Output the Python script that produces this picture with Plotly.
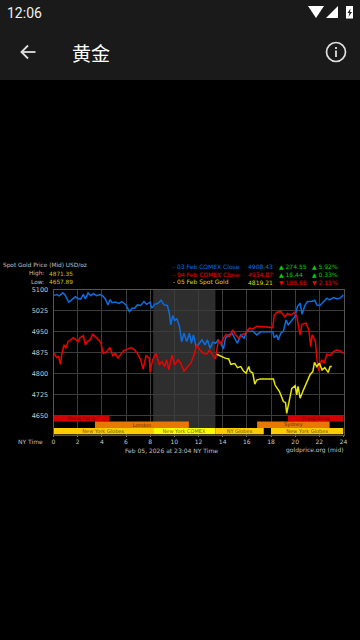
import plotly.graph_objects as go

blue_h = [0.04,0.26,0.48,0.76,0.95,1.26,1.48,1.81,2.03,2.25,2.47,2.64,2.86,3.08,3.30,3.57,3.85,4.07,4.29,4.51,4.68,4.84,5.12,5.39,5.67,6.0,6.28,6.5,6.72,6.94,7.22,7.49,7.71,7.99,8.13,8.38,8.65,8.90,9.15,9.42,9.59,9.70,9.87,10.03,10.20,10.42,10.61,10.80,11.03,11.25,11.41,11.58,11.80,12.02,12.29,12.54,12.74,12.96,13.18,13.40,13.62,13.84,14.06,14.23,14.5,14.78,15.0,15.22,15.5,15.77,16.0,16.27,16.49,16.82,17.15,18.15,18.26,18.48,18.59,18.81,19.03,19.25,19.42,19.69,19.97,20.19,20.41,20.57,20.8,21.02,21.37,21.62,21.79,22.06,22.34,22.62,22.84,23.17,23.5,23.78,24.0]
blue_p = [5079,5082,5077,5088,5081,5055,5062,5074,5068,5066,5083,5066,5088,5078,5085,5078,5082,5077,5066,5045,5064,5053,5055,5050,5057,5045,5021,5033,5033,5045,5043,5057,5047,5055,5033,5047,5051,5062,5045,5043,5015,4974,5007,4988,4997,4968,4914,4944,4914,4944,4908,4938,4896,4905,4920,4902,4920,4890,4912,4908,4920,4908,4888,4926,4938,4944,4926,4908,4938,4926,4952,4950,4952,4938,4949,4949,4928,4938,4920,4944,4952,4991,4974,4988,5003,5039,5051,5012,5043,5057,5057,5062,5045,5043,5055,5069,5063,5071,5066,5071,5081]

red_h = [0.04,0.26,0.42,0.57,0.70,0.87,1.03,1.20,1.42,1.64,1.86,2.03,2.19,2.47,2.64,2.80,3.02,3.24,3.47,3.74,3.90,4.12,4.40,4.67,4.90,5.12,5.34,5.62,5.84,6.17,6.44,6.72,6.94,7.22,7.41,7.66,7.93,7.99,8.21,8.49,8.76,8.98,9.2,9.37,9.54,9.81,10.03,10.31,10.53,10.8,11.08,11.36,11.63,11.85,12.13,12.4,12.68,12.9,13.18,13.4,13.65,13.84,14.06,14.28,14.56,14.83,15.05,15.33,15.6,15.88,16.21,16.49,16.82,18.15,18.26,18.48,18.81,19.14,19.36,19.64,19.97,20.13,20.41,20.57,20.9,21.13,21.29,21.4,21.68,21.79,21.95,22.18,22.4,22.62,22.89,23.17,23.44,23.72,24.0]
red_p = [4872,4857,4861,4833,4872,4902,4890,4914,4920,4928,4920,4914,4928,4935,4902,4914,4920,4940,4932,4920,4912,4872,4878,4893,4864,4872,4855,4872,4883,4888,4893,4884,4872,4849,4816,4864,4855,4805,4849,4872,4831,4843,4825,4849,4813,4866,4831,4849,4837,4809,4825,4837,4866,4902,4884,4872,4869,4884,4866,4852,4920,4905,4926,4940,4932,4956,4938,4926,4938,4944,4962,4959,4969,4964,5007,5019,5021,5003,5015,5009,5019,5003,4938,4976,4980,4956,4896,4938,4914,4855,4809,4849,4837,4869,4864,4878,4884,4881,4872]

yellow_h = [13.51,13.84,14.2,14.5,14.67,15.0,15.22,15.5,15.72,15.94,16.16,16.27,16.49,16.66,16.82,17.1,18.2,18.34,18.7,19.03,19.2,19.3,19.53,19.72,20.0,20.13,20.24,20.41,20.68,20.96,21.24,21.46,21.6,21.79,22.0,22.23,22.45,22.73,22.89,23.03]
yellow_p = [4869,4861,4855,4852,4833,4836,4821,4825,4809,4802,4825,4808,4802,4762,4777,4781,4781,4759,4736,4700,4697,4658,4706,4747,4757,4724,4754,4712,4741,4769,4797,4807,4840,4825,4837,4813,4821,4804,4825,4825]

session_names = ["Hong Kong","Hong Kong","London","Sydney","New York Globex","New York COMEX","NY Globex","New York Globex"]
session_rows = [2,2,1,1,0,0,0,0]
session_start = [0,19.4,3.43,16.85,0,8.25,13.4,18.0]
session_end = [4.6,24,11.2,22.85,8.25,13.4,17.4,24]
session_colors = ["#d40000","#d40000","#e87800","#e87800","#ffcc00","#ffff00","#ffcc00","#ffcc00"]
session_text = ["#600000","#600000","#6a3000","#6a3000","#6a5000","#6a6a00","#6a5000","#6a5000"]

y_ticks = [4650,4725,4800,4875,4950,5025,5100]
x_ticks = list(range(0,25,2))
comex_window = [8.25,13.4]

legend_names = ["- 03 Feb COMEX Close","- 04 Feb COMEX Close","- 05 Feb Spot Gold"]
legend_vals = ["4908.43","4934.87","4819.21"]
legend_chg = ["▲ 274.55","▲ 16.44","▼ 105.66"]
legend_pct = ["▲ 5.92%","▲ 0.33%","▼ 2.15%"]

W, H = 360, 640
BLUE, RED, YEL = "#0a6ee0", "#ee0000", "#e6e600"
GREEN = "#00d000"
FONT = "DejaVu Sans"

def px(x): return x / W
def py(y): return 1 - y / H

fig = go.Figure()
fig.add_trace(go.Scatter(x=blue_h, y=blue_p, mode="lines", line=dict(color=BLUE, width=1.5), showlegend=False))
fig.add_trace(go.Scatter(x=red_h, y=red_p, mode="lines", line=dict(color=RED, width=1.5), showlegend=False))
fig.add_trace(go.Scatter(x=yellow_h, y=yellow_p, mode="lines", line=dict(color=YEL, width=1.5), showlegend=False))
fig.add_trace(go.Bar(
    y=session_rows, x=[e - s for s, e in zip(session_start, session_end)], base=session_start,
    orientation="h", width=1, yaxis="y2",
    marker=dict(color=session_colors, line=dict(width=0)),
    text=session_names, textposition="inside", insidetextanchor="middle", textangle=0,
    constraintext="none", textfont=dict(family=FONT, size=5, color=session_text),
    showlegend=False, hoverinfo="skip"))

grid = "#3c3c3c"
fig.update_layout(
    width=W, height=H, margin=dict(l=0, r=0, t=0, b=0, pad=0, autoexpand=False),
    paper_bgcolor="#000000", plot_bgcolor="#000000", barmode="overlay",
    font=dict(family=FONT, size=6, color="#c0c0c0"),
    xaxis=dict(domain=[px(53.5), px(343.5)], range=[0, 24], tickvals=x_ticks, ticktext=[str(t) for t in x_ticks],
               showgrid=True, gridcolor=grid, gridwidth=1, zeroline=False, showline=True, linecolor="#555555",
               mirror=True, ticks="outside", ticklen=1, tickcolor="#777777", anchor="y", automargin=False,
               tickfont=dict(family=FONT, size=6, color="#c8c8c8")),
    yaxis=dict(domain=[py(434.5), py(289.5)], range=[4582.5, 5100], tickvals=y_ticks, automargin=False,
               showgrid=True, gridcolor=grid, gridwidth=1, zeroline=False, showline=True, linecolor="#555555",
               mirror=True, ticks="", tickfont=dict(family=FONT, size=6.5, color="#c8c8c8"), ticklabelstandoff=3),
    yaxis2=dict(overlaying="y", range=[-0.5, 22.0], visible=False, anchor="x", showgrid=False, zeroline=False),
)

shapes = [
    dict(type="rect", xref="x", yref="paper", x0=comex_window[0], x1=comex_window[1], y0=py(434), y1=py(289.5),
         fillcolor="#2e2e2e", line=dict(width=0), layer="below"),
    dict(type="rect", xref="paper", yref="paper", x0=0, x1=1, y0=py(80), y1=1, fillcolor="#1a1a1a", line=dict(width=0)),
]
def path(d, **kw):
    s = dict(type="path", xref="paper", yref="paper", path=d, line=dict(width=0))
    s.update(kw)
    return s
def P(*pts, close=True):
    d = "M" + " L".join(f"{px(x):.5f},{py(y):.5f}" for x, y in pts)
    return d + (" Z" if close else "")
# back arrow
shapes.append(dict(type="line", xref="paper", yref="paper", x0=px(21.5), x1=px(35.5), y0=py(52), y1=py(52), line=dict(color="#e0e0e0", width=1.8)))
shapes.append(path(P((28,45.5),(21.5,52),(28,58.5), close=False), line=dict(color="#e0e0e0", width=1.8)))
# info icon
shapes.append(dict(type="circle", xref="paper", yref="paper", x0=px(326.5), x1=px(345.5), y0=py(61.5), y1=py(42.5),
                   line=dict(color="#e0e0e0", width=1.7)))
shapes.append(dict(type="line", xref="paper", yref="paper", x0=px(336), x1=px(336), y0=py(50.5), y1=py(57), line=dict(color="#e0e0e0", width=1.8)))
shapes.append(dict(type="line", xref="paper", yref="paper", x0=px(336), x1=px(336), y0=py(47), y1=py(49), line=dict(color="#e0e0e0", width=1.8)))
# status icons
shapes.append(path(P((308,6),(324,6),(316,18)), fillcolor="#ffffff"))
shapes.append(path(P((326,18),(338,18),(338,6)), fillcolor="#ffffff"))
shapes.append(path(P((346,6),(353,6),(353,18.5),(346,18.5)), fillcolor="#ffffff"))
shapes.append(path(P((350.5,8.5),(347.5,13),(349.5,13),(348.5,17),(352,12),(350,12)), fillcolor="#1a1a1a"))
fig.update_layout(shapes=shapes)

def T(x, y, s, color="#c0c0c0", size=6, anchor="left", family=FONT):
    dx = {"left": -1, "right": 1, "center": 0}[anchor]
    fig.add_annotation(x=px(x + dx), y=py(y), xref="paper", yref="paper", text=s, showarrow=False,
                       xanchor=anchor, yanchor="middle", borderpad=0,
                       font=dict(family=family, size=size, color=color))

T(7, 13, "12:06", "#f0f0f0", 14, family="Roboto")
T(72, 52, "黄金", "#ffffff", 19, family="Noto Sans CJK SC")

T(3, 265.5, "Spot Gold Price (Mid) USD/oz", "#c0c0c0", 5.8)
T(44, 273.5, "High:", "#c0c0c0", 5.8, "right")
T(49, 273.5, "4871.35", "#c8c800", 5.8)
T(44, 282, "Low:", "#c0c0c0", 5.8, "right")
T(49, 282, "4657.89", "#c8c800", 5.8)

for i, (name, col) in enumerate(zip(legend_names, [BLUE, RED, "#dcdc00"])):
    y = [266.8, 274.4, 282.2][i]
    T(173, y, name, col, 6)
    T(248, y, legend_vals[i], col, 6)
    c2 = RED if legend_chg[i][0] == "▼" else GREEN
    T(279, y, legend_chg[i], c2, 6)
    T(312, y, legend_pct[i], c2, 6)

T(18, 441, "NY Time", "#c0c0c0", 6)
T(171, 450, "Feb 05, 2026 at 23:04 NY Time", "#c0c0c0", 6, "center")
T(343.5, 450, "goldprice.org (mid)", "#c0c0c0", 6, "right")

fig.write_html("out.html", config=dict(displayModeBar=False),
               post_script="document.documentElement.style.background='#000';document.body.style.margin='0';document.body.style.overflow='hidden';")
